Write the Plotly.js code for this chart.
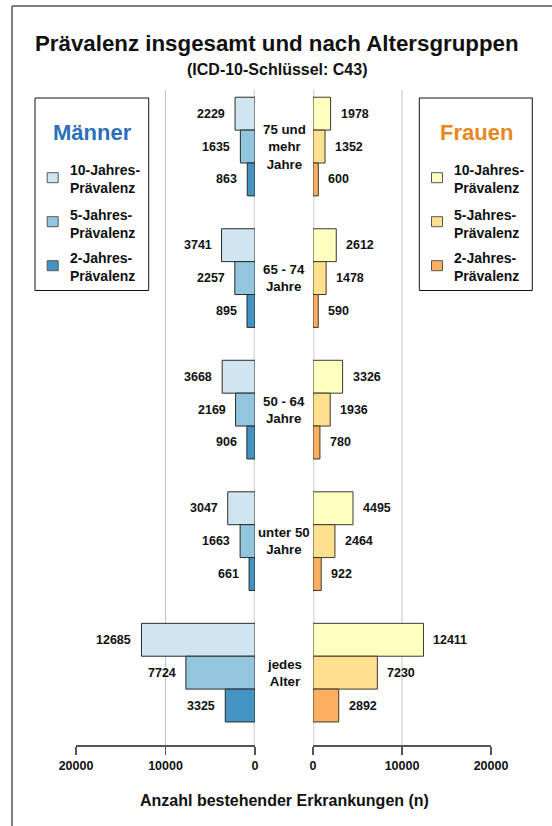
<!DOCTYPE html>
<html>
<head>
<meta charset="utf-8">
<script src="https://cdn.plot.ly/plotly-3.0.1.min.js"></script>
<style>html,body{margin:0;padding:0;background:#fff;}#chart{width:552px;height:826px;}</style>
</head>
<body>
<div id="chart"></div>
<script>
// ---- data ----
var groups = ["75 und<br>mehr<br>Jahre", "65 - 74<br>Jahre", "50 - 64<br>Jahre", "unter 50<br>Jahre", "jedes<br>Alter"];
var seriesNames = ["10-Jahres-Prävalenz", "5-Jahres-Prävalenz", "2-Jahres-Prävalenz"];
var legendLabels = ["10-Jahres-<br>Prävalenz", "5-Jahres-<br>Prävalenz", "2-Jahres-<br>Prävalenz"];
var men10 = [2229, 3741, 3668, 3047, 12685];
var men5  = [1635, 2257, 2169, 1663, 7724];
var men2  = [863, 895, 906, 661, 3325];
var women10 = [1978, 2612, 3326, 4495, 12411];
var women5  = [1352, 1478, 1936, 2464, 7230];
var women2  = [600, 590, 780, 922, 2892];
var xTicks = [0, 10000, 20000];
var xTickText = ["0", "10000", "20000"];

// ---- styling ----
var menColors = ["#d1e5f0", "#92c5de", "#4393c3"];
var womenColors = ["#ffffbf", "#fee090", "#fdae61"];
var FONT = "Liberation Sans, Arial, Helvetica, sans-serif";
var W = 552, H = 826, MT = 90, MB = 81;
var plotH = H - MT - MB;
function px(x) { return x / W; }
function py(y) { return (H - MB - y) / plotH; }

var menSeries = [men10, men5, men2];
var womenSeries = [women10, women5, women2];

function slotPositions(b) { return groups.map(function (g, i) { return i * 4 + b; }); }

var traces = [];
var annotations = [];
for (var b = 0; b < 3; b++) {
  var yPos = slotPositions(b);
  traces.push({
    type: "bar", orientation: "h", name: "Männer " + seriesNames[b],
    x: menSeries[b], y: yPos, width: 1, xaxis: "x", yaxis: "y",
    marker: { color: menColors[b], line: { color: "#2a2a2a", width: 1 } },
    hoverinfo: "x", showlegend: false
  });
  traces.push({
    type: "bar", orientation: "h", name: "Frauen " + seriesNames[b],
    x: womenSeries[b], y: yPos, width: 1, xaxis: "x2", yaxis: "y",
    marker: { color: womenColors[b], line: { color: "#3a3a2a", width: 1 } },
    hoverinfo: "x", showlegend: false
  });
  for (var i = 0; i < groups.length; i++) {
    annotations.push({
      x: menSeries[b][i], y: yPos[i], xref: "x", yref: "y", text: String(menSeries[b][i]),
      showarrow: false, xanchor: "right", yanchor: "middle", xshift: -8,
      font: { family: FONT, size: 12.5, color: "#111", weight: "bold" }
    });
    annotations.push({
      x: womenSeries[b][i], y: yPos[i], xref: "x2", yref: "y", text: String(womenSeries[b][i]),
      showarrow: false, xanchor: "left", yanchor: "middle", xshift: 8,
      font: { family: FONT, size: 12.5, color: "#111", weight: "bold" }
    });
  }
}
// group labels
for (var g = 0; g < groups.length; g++) {
  annotations.push({
    x: px(284), xref: "paper", y: g * 4 + 1, yref: "y", text: groups[g],
    showarrow: false, xanchor: "center", yanchor: "middle", align: "center",
    font: { family: FONT, size: 13.3, color: "#111", weight: "bold" }
  });
}
// titles
annotations.push({ x: px(277), y: py(44), xref: "paper", yref: "paper", text: "Prävalenz insgesamt und nach Altersgruppen",
  showarrow: false, xanchor: "center", yanchor: "middle", font: { family: FONT, size: 22.3, color: "#111", weight: "bold" } });
annotations.push({ x: px(277), y: py(70), xref: "paper", yref: "paper", text: "(ICD-10-Schlüssel: C43)",
  showarrow: false, xanchor: "center", yanchor: "middle", font: { family: FONT, size: 16, color: "#111", weight: "bold" } });
annotations.push({ x: px(284), y: py(800), xref: "paper", yref: "paper", text: "Anzahl bestehender Erkrankungen (n)",
  showarrow: false, xanchor: "center", yanchor: "middle", font: { family: FONT, size: 16, color: "#111", weight: "bold" } });

var shapes = [];
// outer frame
shapes.push({ type: "line", xref: "paper", yref: "paper", x0: px(12), x1: px(12), y0: py(6), y1: py(830), line: { color: "#555", width: 1.5 } });
shapes.push({ type: "line", xref: "paper", yref: "paper", x0: px(12), x1: px(556), y0: py(6), y1: py(6), line: { color: "#555", width: 1.5 } });
// gridlines
[["x", 0], ["x2", 0]].forEach(function (a) {
  shapes.push({ type: "line", xref: a[0], yref: "paper", x0: a[1], x1: a[1], y0: 0, y1: 1, layer: "below", line: { color: "#dcdcdc", width: 3 } });
});
[["x", 10000], ["x2", 10000]].forEach(function (a) {
  shapes.push({ type: "line", xref: a[0], yref: "paper", x0: a[1], x1: a[1], y0: 0, y1: 1, layer: "below", line: { color: "#c4c4c4", width: 1 } });
});

// legend boxes
function legendBox(x0, x1, title, titleColor, titleX, colors, sqX, txtX) {
  shapes.push({ type: "rect", xref: "paper", yref: "paper", x0: px(x0), x1: px(x1), y0: py(98), y1: py(290.5),
    fillcolor: "#fff", line: { color: "#111", width: 1 } });
  annotations.push({ x: px(titleX), y: py(132), xref: "paper", yref: "paper", text: title, showarrow: false,
    xanchor: "center", yanchor: "middle", font: { family: FONT, size: 22, color: titleColor, weight: "bold" } });
  var sqY = [177.7, 221.7, 265.7], txtY = [179, 223.5, 267];
  for (var k = 0; k < 3; k++) {
    shapes.push({ type: "rect", xref: "paper", yref: "paper", x0: px(sqX - 5.5), x1: px(sqX + 5.5), y0: py(sqY[k] - 5), y1: py(sqY[k] + 5),
      fillcolor: colors[k], line: { color: "#555", width: 1 } });
    annotations.push({ x: px(txtX), y: py(txtY[k]), xref: "paper", yref: "paper", text: legendLabels[k], showarrow: false,
      xanchor: "left", yanchor: "middle", align: "left", font: { family: FONT, size: 14, color: "#111", weight: "bold" } });
  }
}
legendBox(35, 148.7, "Männer", "#2c6fbb", 92, menColors, 52.7, 68);
legendBox(419.3, 532.3, "Frauen", "#e8871e", 476, womenColors, 437, 452);

var axisCommon = {
  tickmode: "array", tickvals: xTicks, ticktext: xTickText, showgrid: false, zeroline: false,
  showline: true, linecolor: "#555", linewidth: 1.5, ticks: "outside", ticklen: 8, tickwidth: 1.5, tickcolor: "#555",
  tickfont: { family: FONT, size: 12.5, color: "#111", weight: "bold" }, anchor: "y", fixedrange: true
};
var layout = {
  width: W, height: H, margin: { l: 0, r: 0, t: MT, b: MB, pad: 0 },
  paper_bgcolor: "#fff", plot_bgcolor: "rgba(0,0,0,0)", showlegend: false, barmode: "overlay",
  xaxis: Object.assign({}, axisCommon, { domain: [px(76), px(255)], range: [20000, 0] }),
  xaxis2: Object.assign({}, axisCommon, { domain: [px(313), px(491)], range: [0, 20000] }),
  yaxis: { range: [19.2, -0.72], showticklabels: false, showgrid: false, zeroline: false, showline: false, ticks: "", fixedrange: true },
  shapes: shapes, annotations: annotations, font: { family: FONT, color: "#111" }
};
Plotly.newPlot("chart", traces, layout, { displayModeBar: false, staticPlot: true });
</script>
</body>
</html>
